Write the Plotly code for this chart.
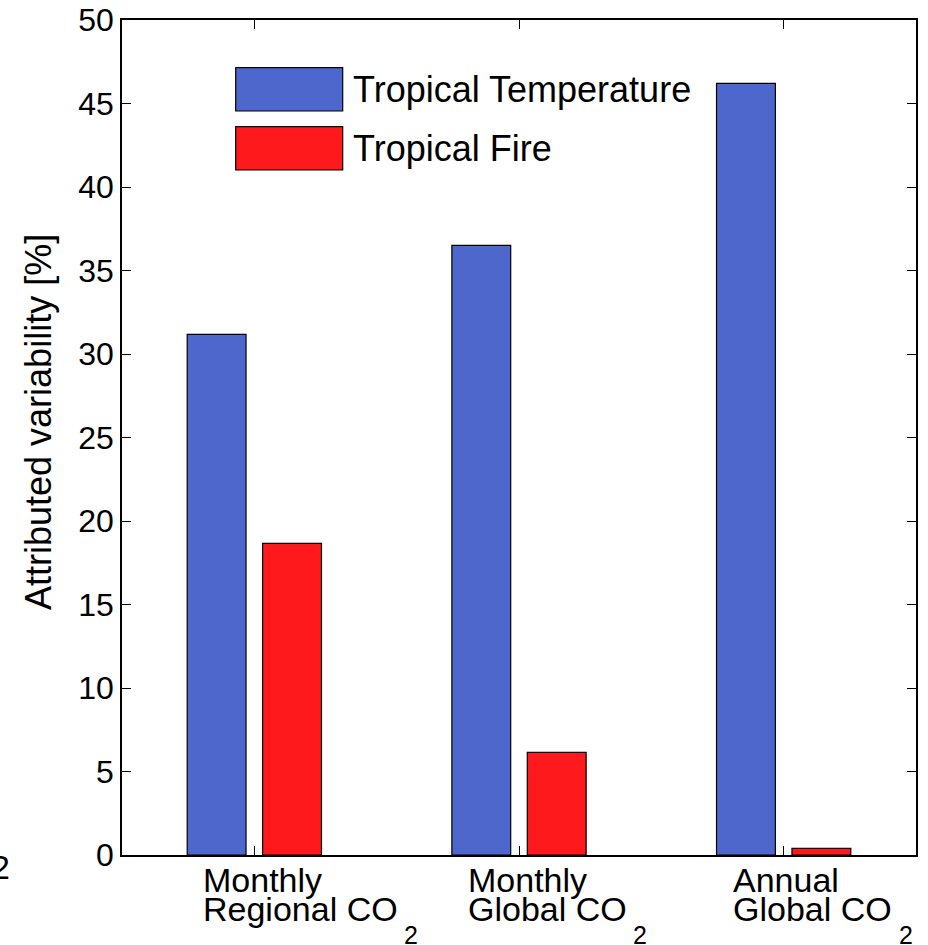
import plotly.graph_objects as go

categories = ["Monthly Regional CO2", "Monthly Global CO2", "Annual Global CO2"]
label_line1 = ["Monthly", "Monthly", "Annual"]
label_line2 = ["Regional CO", "Global CO", "Global CO"]
label_sub = ["2", "2", "2"]
temperature = [31.17, 36.5, 46.2]
fire = [18.66, 6.14, 0.4]
series_names = ["Tropical Temperature", "Tropical Fire"]
y_ticks = list(range(0, 51, 5))
y_title = "Attributed variability [%]"

BLUE = "rgb(78,103,204)"
RED = "rgb(254,26,28)"
FONT = "Liberation Sans, Arial, Helvetica, sans-serif"

W, H = 928, 945
L, R, T, B = 122, 12, 20, 90
pw, ph = W - L - R, H - T - B


def px(x):
    return (x - L) / pw


def py(y):
    return (H - B - y) / ph


fig = go.Figure()
fig.add_trace(go.Bar(x=categories, y=temperature, name=series_names[0],
                     marker=dict(color=BLUE, line=dict(color="black", width=1.2))))
fig.add_trace(go.Bar(x=categories, y=fire, name=series_names[1],
                     marker=dict(color=RED, line=dict(color="black", width=1.2))))

fig.update_layout(
    width=W, height=H,
    margin=dict(l=L, r=R, t=T, b=B, autoexpand=False),
    paper_bgcolor="white", plot_bgcolor="white",
    barmode="group", bargap=0.43, bargroupgap=0.22,
    showlegend=False,
    font=dict(family=FONT, color="black", size=32),
)
fig.update_xaxes(
    range=[-0.5, 2.5], showline=True, linecolor="black", linewidth=1.6,
    mirror="ticks", ticks="inside", ticklen=9, tickcolor="black", tickwidth=1.2,
    showticklabels=False, showgrid=False, zeroline=False, automargin=False,
)
fig.update_yaxes(
    range=[0, 50], tickvals=y_ticks, showline=True, linecolor="black", linewidth=1.6,
    mirror="ticks", ticks="inside", ticklen=9, tickcolor="black", tickwidth=1.2,
    tickfont=dict(size=32, family=FONT, color="black"),
    showgrid=False, zeroline=False, automargin=False,
)

# y-axis title (placed as in the original, slightly above the axis centre)
fig.add_annotation(x=px(39), y=py(422), xref="paper", yref="paper", text=y_title,
                   textangle=-90, showarrow=False, xanchor="center", yanchor="middle",
                   font=dict(size=36, family=FONT, color="black"))

# category labels (left aligned, tight line spacing, low subscript as in the original)
sub_shift = [150, 114, 115]
for i in range(len(categories)):
    fig.add_annotation(x=i, y=py(880), xref="x", yref="paper", text=label_line1[i],
                       showarrow=False, xanchor="left", yanchor="middle", xshift=-53,
                       font=dict(size=34, family=FONT, color="black"))
    fig.add_annotation(x=i, y=py(909), xref="x", yref="paper", text=label_line2[i],
                       showarrow=False, xanchor="left", yanchor="middle", xshift=-53,
                       font=dict(size=34, family=FONT, color="black"))
    fig.add_annotation(x=i, y=py(935), xref="x", yref="paper", text=label_sub[i],
                       showarrow=False, xanchor="left", yanchor="middle",
                       xshift=sub_shift[i] - 2,
                       font=dict(size=25, family=FONT, color="black"))

# legend drawn manually with large swatches
legend_rows = [(67.7, 111.0, BLUE), (126.7, 170.0, RED)]
for (top, bot, col), name in zip(legend_rows, series_names):
    fig.add_shape(type="rect", xref="paper", yref="paper",
                  x0=px(235.7), x1=px(342.7), y0=py(bot), y1=py(top),
                  fillcolor=col, line=dict(color="black", width=1.2))
    fig.add_annotation(x=px(351), y=py((top + bot) / 2), xref="paper", yref="paper",
                       text=name, showarrow=False, xanchor="left", yanchor="middle",
                       font=dict(size=36, family=FONT, color="black"))

# clipped stray glyph at the left edge
fig.add_annotation(x=px(0), y=py(867), xref="paper", yref="paper", text="2",
                   showarrow=False, xanchor="center", yanchor="middle",
                   font=dict(size=34, family=FONT, color="black"))

fig.write_html("out.html", config={"displayModeBar": False},
               post_script="document.body.style.margin='0';")
